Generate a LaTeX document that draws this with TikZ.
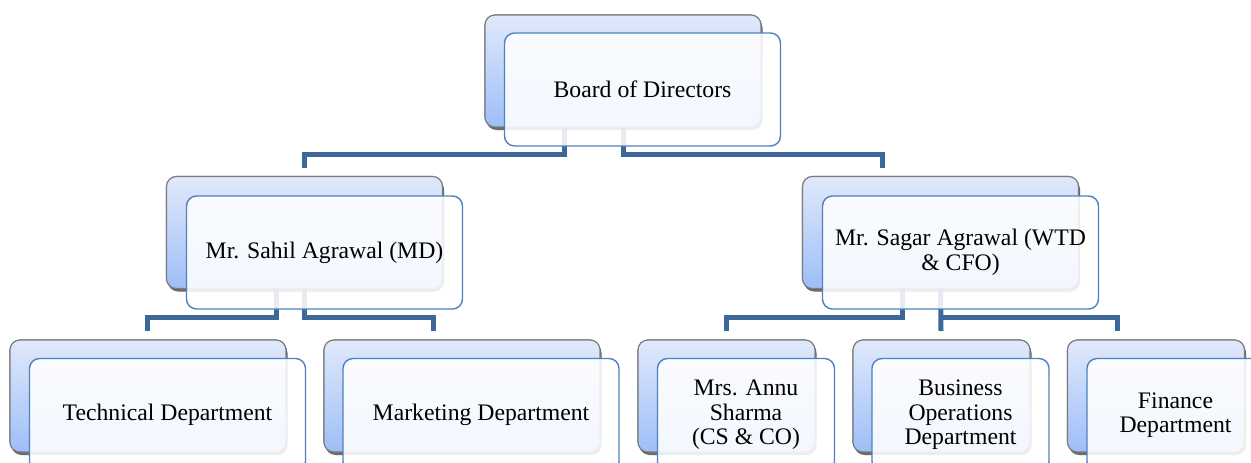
\documentclass[tikz,border=0pt]{standalone}
\usepackage{fontspec}
\setmainfont{Liberation Serif}
\usetikzlibrary{shadows}
\definecolor{connc}{RGB}{62,104,154}
\definecolor{frontc}{RGB}{79,129,189}
\definecolor{backtop}{RGB}{224,233,251}
\definecolor{backbot}{RGB}{158,190,248}
\definecolor{backedge}{RGB}{125,125,125}
\tikzset{
  backbox/.style={rounded corners=10pt, draw=backedge, line width=1.1pt,
    top color=backtop, bottom color=backbot, inner sep=0pt,
    drop shadow={shadow xshift=1.5pt, shadow yshift=-3pt, opacity=0.35, fill=black}},
  bigback/.style={backbox, minimum width=276pt, minimum height=112pt},
  smallback/.style={backbox, minimum width=177pt, minimum height=112pt},
  frontbox/.style={rounded corners=10pt, draw=frontc, line width=1.4pt,
    fill=white, fill opacity=0.88, text opacity=1, inner sep=0pt, align=center,
    font=\fontsize{23.7}{24.6}\selectfont},
  bigfront/.style={frontbox, minimum width=276pt, minimum height=113pt},
  smallfront/.style={frontbox, minimum width=177pt, minimum height=113pt},
  conn/.style={draw=connc, line width=5pt, line join=miter}
}
\begin{document}
\begin{tikzpicture}[x=1pt, y=-1pt]
\clip (0,0) rectangle (1251,463);
\fill[white] (0,0) rectangle (1251,463);
% back boxes (positions)
\node[bigback] (bodB) at (623,71) {};
\node[bigback] (sahB) at (304.5,232.5) {};
\node[bigback] (sagB) at (940.5,232.5) {};
\node[bigback] (tecB) at (148,396) {};
\node[bigback] (marB) at (462,396) {};
\node[smallback] (annB) at (726.5,396) {};
\node[smallback] (busB) at (941.5,396) {};
\node[smallback] (finB) at (1156,396) {};
% connector ends
\coordinate (sahT) at (304,168);
\coordinate (sagT) at (882,168);
\coordinate (tecT) at (147,331);
\coordinate (marT) at (433,331);
\coordinate (annT) at (726,331);
\coordinate (busT) at (941,331);
\coordinate (finT) at (1117,331);
% connectors
\draw[conn] ([xshift=-59pt]bodB.south) -- ++(0,27) -| (sahT);
\draw[conn] (bodB.south) -- ++(0,27) -| (sagT);
\draw[conn] ([xshift=-28.5pt]sahB.south) -- ++(0,28.5) -| (tecT);
\draw[conn] (sahB.south) -- ++(0,28.5) -| (marT);
\draw[conn] ([xshift=-38.5pt]sagB.south) -- ++(0,28.5) -| (annT);
\draw[conn] (sagB.south) -- (busT);
\draw[conn] ([yshift=-28.5pt]sagB.south) -| (finT);
% redraw back boxes over connectors
\node[bigback] at (bodB) {};
\node[bigback] at (sahB) {};
\node[bigback] at (sagB) {};
\node[bigback] at (tecB) {};
\node[bigback] at (marB) {};
\node[smallback] at (annB) {};
\node[smallback] at (busB) {};
\node[smallback] at (finB) {};
% front boxes
\node[bigfront] (bod) at (642.5,89.5) {Board of Directors};
\node[bigfront] (sah) at (324.5,252.5) {Mr. Sahil Agrawal (MD)};
\node[bigfront] (sag) at (960.5,252.5) {Mr. Sagar Agrawal (WTD\\ \& CFO)};
\node[bigfront] (tec) at (167.5,415) {Technical Department};
\node[bigfront] (mar) at (481,415) {Marketing Department};
\node[smallfront] (ann) at (746,415) {Mrs. Annu\\ Sharma\\ (CS \& CO)};
\node[smallfront] (bus) at (960.5,415) {Business\\ Operations\\ Department};
\node[smallfront] (fin) at (1175.5,415) {Finance\\ Department};
\end{tikzpicture}
\end{document}
